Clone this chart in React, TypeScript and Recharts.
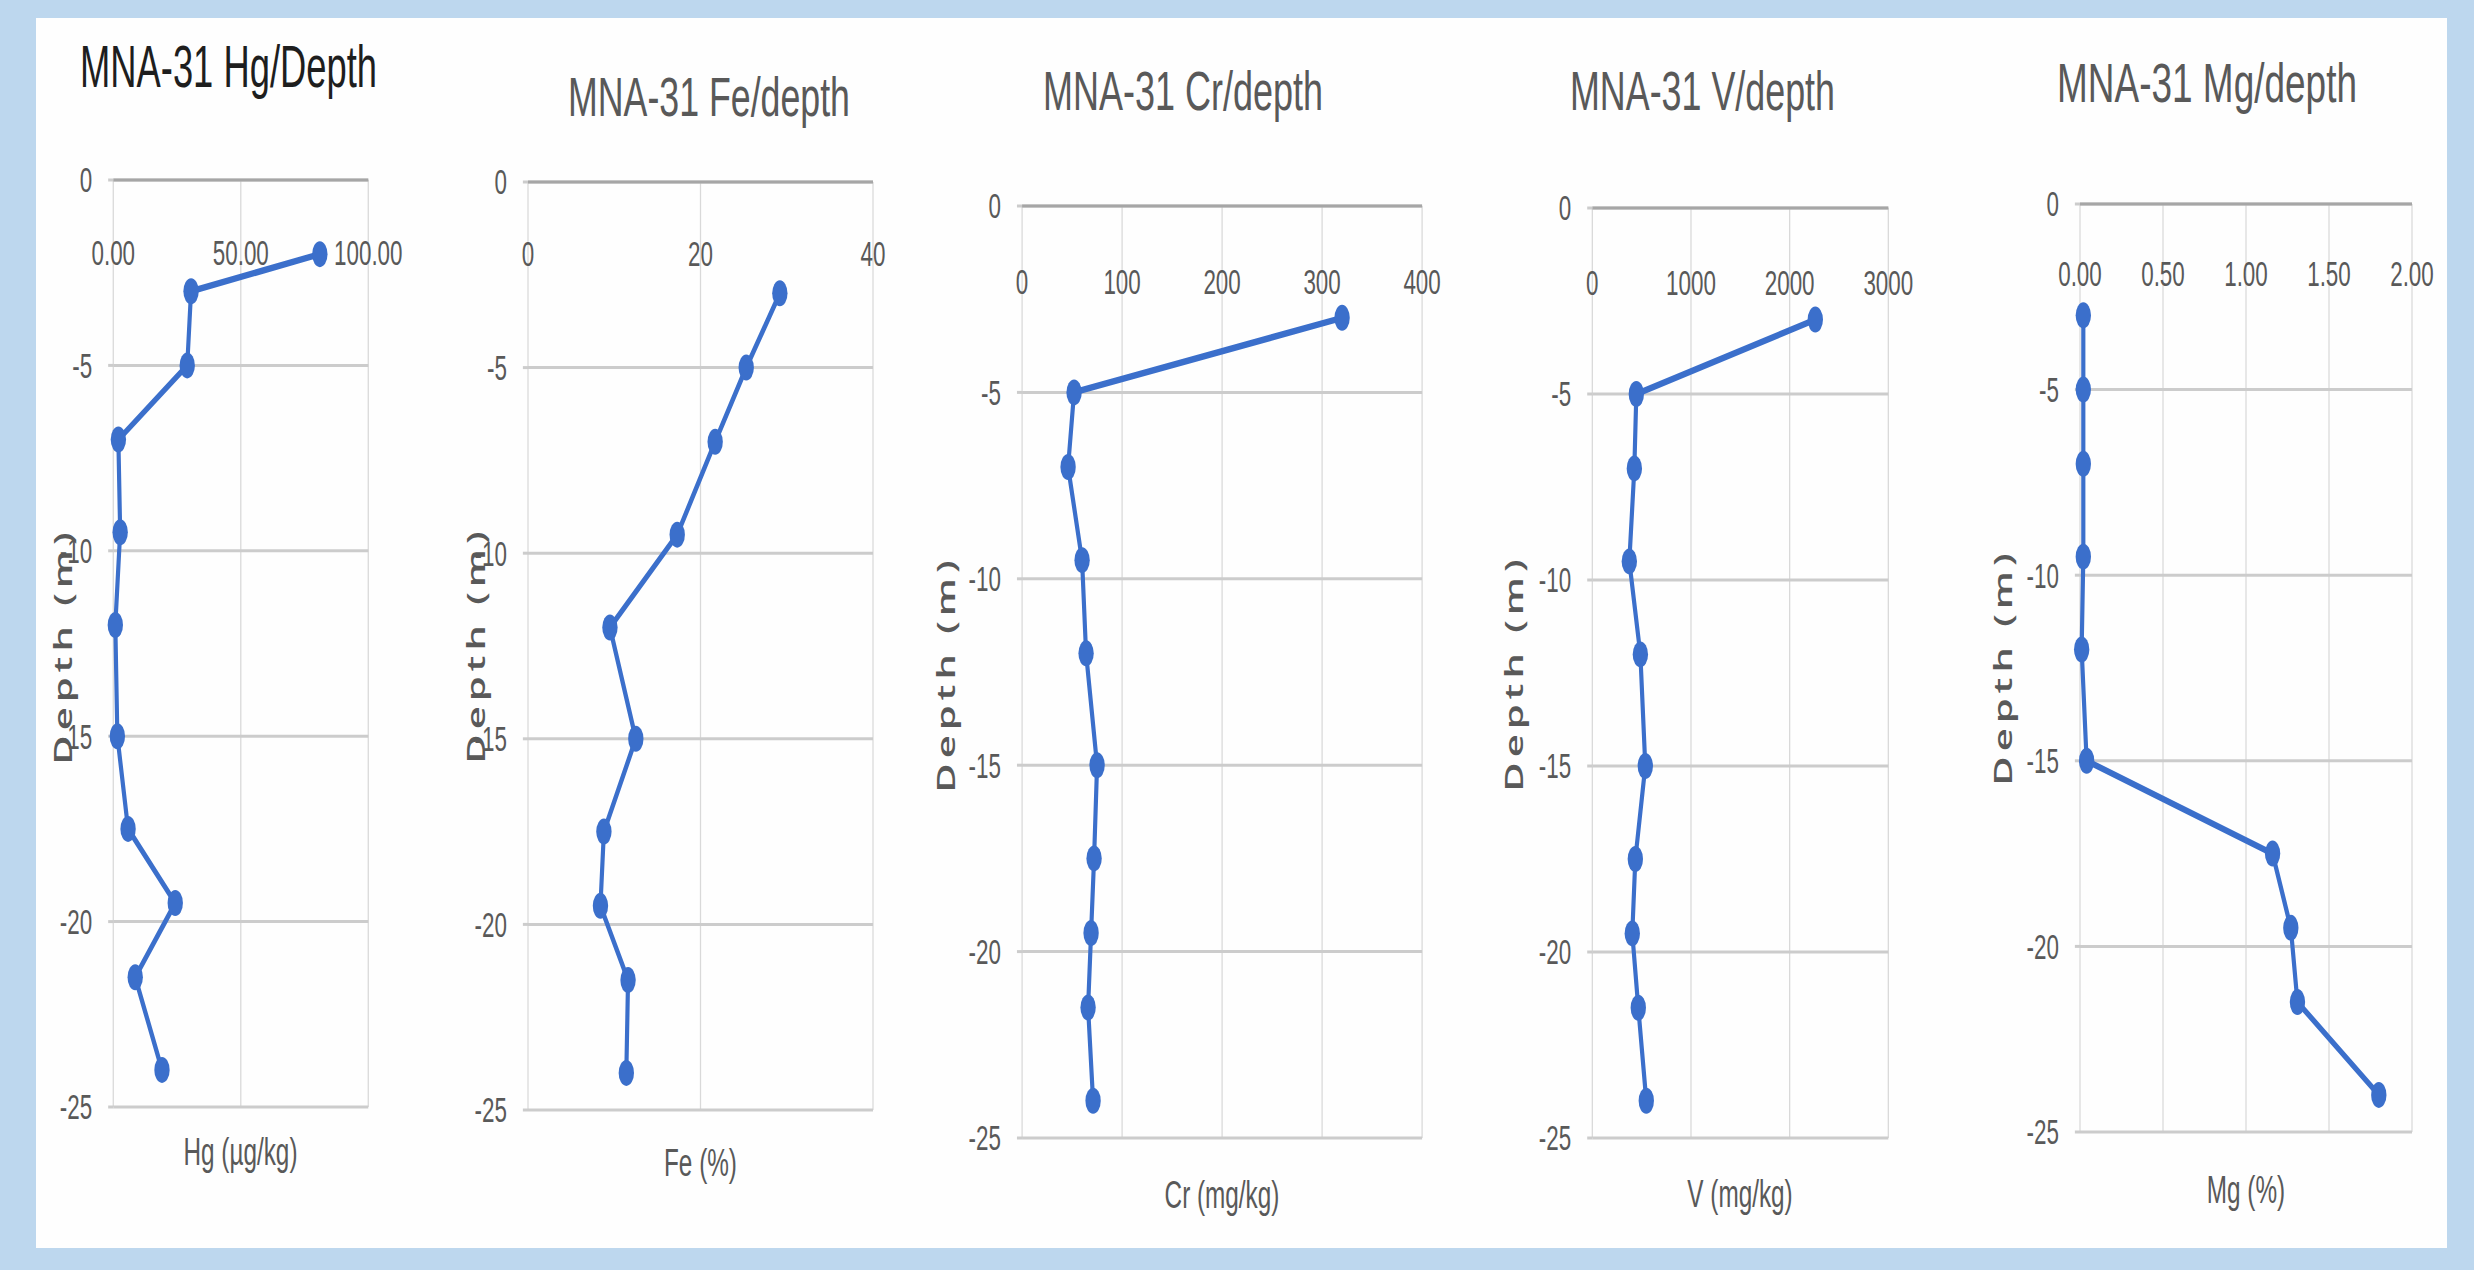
import React from "react";
import { ScatterChart, Scatter, XAxis, YAxis, CartesianGrid } from "recharts";

// the source picture is squeezed sideways, so everything is drawn wide and scaled back
const SQUEEZE = 0.64;
const PAGE_W = 2474;
const PAGE_H = 1270;

const FONT = "'Liberation Sans', Arial, sans-serif";
const TICK_GREY = "#595959";
const BLUE = "#3B6FCB";

// depth (m) of every sample
const HG_DEPTH = [-2, -3, -5, -7, -9.5, -12, -15, -17.5, -19.5, -21.5, -24];
const DEPTH = [-3, -5, -7, -9.5, -12, -15, -17.5, -19.5, -21.5, -24];

// concentrations
const HG = [81, 30.5, 29, 2, 2.7, 0.8, 1.6, 5.8, 24.3, 8.6, 19.1];
const FE = [29.2, 25.3, 21.7, 17.3, 9.5, 12.5, 8.8, 8.4, 11.6, 11.4];
const CR = [320, 52, 46, 60, 64, 75, 72, 69, 66, 71];
const V = [2260, 446, 426, 375, 487, 537, 436, 405, 466, 547];
const MG = [0.02, 0.02, 0.02, 0.02, 0.01, 0.04, 1.16, 1.27, 1.31, 1.8];

const DEPTH_TICKS = [0, -5, -10, -15, -20, -25];
const HG_TICKS = [0, 50, 100];
const FE_TICKS = [0, 20, 40];
const CR_TICKS = [0, 100, 200, 300, 400];
const V_TICKS = [0, 1000, 2000, 3000];
const MG_TICKS = [0, 0.5, 1, 1.5, 2];

type Panel = {
    title: string;
    titleColor: string;
    titleSize: number;
    titleX: number;
    titleY: number;
    titleW: number;
    xLabel: string;
    xLabelY: number;
    depthX: number;
    depthY: number;
    ticks: number[];
    tickY: number;
    digits: number;
    depths: number[];
    values: number[];
    left: number;
    right: number;
    top: number;
    bottom: number;
};

const PANELS: Panel[] = [
    {
        title: "MNA-31 Hg/Depth", titleColor: "#1E1E1E", titleSize: 60, titleX: 80, titleY: 87, titleW: 297,
        xLabel: "Hg (µg/kg)", xLabelY: 1165, depthX: 62, depthY: 646,
        ticks: HG_TICKS, tickY: 85, digits: 2, depths: HG_DEPTH, values: HG,
        left: 113, right: 368, top: 180, bottom: 1107,
    },
    {
        title: "MNA-31 Fe/depth", titleColor: TICK_GREY, titleSize: 56, titleX: 568, titleY: 116, titleW: 282,
        xLabel: "Fe (%)", xLabelY: 1176, depthX: 475, depthY: 645,
        ticks: FE_TICKS, tickY: 84, digits: 0, depths: DEPTH, values: FE,
        left: 528, right: 873, top: 182, bottom: 1110,
    },
    {
        title: "MNA-31 Cr/depth", titleColor: TICK_GREY, titleSize: 56, titleX: 1043, titleY: 110, titleW: 280,
        xLabel: "Cr (mg/kg)", xLabelY: 1208, depthX: 945, depthY: 674,
        ticks: CR_TICKS, tickY: 88, digits: 0, depths: DEPTH, values: CR,
        left: 1022, right: 1422, top: 206, bottom: 1138,
    },
    {
        title: "MNA-31 V/depth", titleColor: TICK_GREY, titleSize: 56, titleX: 1570, titleY: 110, titleW: 265,
        xLabel: "V (mg/kg)", xLabelY: 1207, depthX: 1513, depthY: 673,
        ticks: V_TICKS, tickY: 87, digits: 0, depths: DEPTH, values: V,
        left: 1592, right: 1888, top: 208, bottom: 1138,
    },
    {
        title: "MNA-31 Mg/depth", titleColor: TICK_GREY, titleSize: 56, titleX: 2057, titleY: 102, titleW: 300,
        xLabel: "Mg (%)", xLabelY: 1203, depthX: 2002, depthY: 667,
        ticks: MG_TICKS, tickY: 82, digits: 2, depths: DEPTH, values: MG,
        left: 2080, right: 2412, top: 204, bottom: 1132,
    },
];

const Y_AXIS_W = 160;
const X_AXIS_H = 2;
const M_TOP = 30;
const M_RIGHT = 60;
const M_BOTTOM = 30;

function Profile({ p }: { p: Panel }) {
    const plotLeft = p.left / SQUEEZE;
    const plotW = (p.right - p.left) / SQUEEZE;
    const plotH = p.bottom - p.top;
    const data = p.depths.map((d, i) => ({ v: p.values[i], d }));
    const max = p.ticks[p.ticks.length - 1];
    const plotTop = M_TOP + X_AXIS_H;

    // excel draws these just under the top axis line, inside the plot
    const topTick = (props: any) => (
        <text
            key={`t-${props.index}`}
            x={props.x}
            y={plotTop + p.tickY}
            textAnchor="middle"
            fill={TICK_GREY}
            fontSize={35}
            fontFamily={FONT}
        >
            {Number(props.payload.value).toFixed(p.digits)}
        </text>
    );

    return (
        <div style={{ position: "absolute", left: plotLeft - Y_AXIS_W, top: p.top - plotTop }}>
            <ScatterChart
                width={plotW + Y_AXIS_W + M_RIGHT}
                height={plotH + plotTop + M_BOTTOM}
                margin={{ top: M_TOP, right: M_RIGHT, bottom: M_BOTTOM, left: 0 }}
            >
                <CartesianGrid horizontal={false} stroke="#D9D9D9" strokeWidth={2} />
                <CartesianGrid vertical={false} stroke="#CCCCCC" strokeWidth={3} />
                <XAxis
                    type="number"
                    dataKey="v"
                    orientation="top"
                    domain={[0, max]}
                    ticks={p.ticks}
                    interval={0}
                    height={X_AXIS_H}
                    axisLine={{ stroke: "#A6A6A6", strokeWidth: 3 }}
                    tickLine={false}
                    tick={topTick}
                />
                <YAxis
                    type="number"
                    dataKey="d"
                    domain={[-25, 0]}
                    ticks={DEPTH_TICKS}
                    interval={0}
                    width={Y_AXIS_W}
                    axisLine={false}
                    tickLine={{ stroke: "#CCCCCC", strokeWidth: 3 }}
                    tickSize={8}
                    tickMargin={25}
                    tick={{ fill: TICK_GREY, fontSize: 35, fontFamily: FONT }}
                    tickFormatter={(t: number) => String(t)}
                />
                <Scatter
                    data={data}
                    fill={BLUE}
                    line={{ stroke: BLUE, strokeWidth: 6.5 }}
                    lineType="joint"
                    shape={(s: any) => <ellipse cx={s.cx} cy={s.cy} rx={12} ry={13} fill={BLUE} />}
                    isAnimationActive={false}
                />
            </ScatterChart>
        </div>
    );
}

export default function App() {
    const wide = PAGE_W / SQUEEZE;
    return (
        <div
            style={{
                position: "absolute",
                left: 0,
                top: 0,
                width: PAGE_W,
                height: PAGE_H,
                background: "#BDD7EE",
                overflow: "hidden",
            }}
        >
            <div style={{ position: "absolute", left: 36, top: 18, width: 2411, height: 1230, background: "#FEFEFE" }} />
            <div
                style={{
                    position: "absolute",
                    left: 0,
                    top: 0,
                    width: wide,
                    height: PAGE_H,
                    transform: `scaleX(${SQUEEZE})`,
                    transformOrigin: "0 0",
                }}
            >
                {PANELS.map((p) => (
                    <Profile key={p.title} p={p} />
                ))}
                <svg width={wide} height={PAGE_H} style={{ position: "absolute", left: 0, top: 0 }}>
                    {PANELS.map((p) => (
                        <g key={p.title}>
                            <text
                                x={p.titleX / SQUEEZE}
                                y={p.titleY}
                                fontSize={p.titleSize}
                                fontFamily={FONT}
                                fill={p.titleColor}
                                textLength={p.titleW / SQUEEZE}
                                lengthAdjust="spacingAndGlyphs"
                            >
                                {p.title}
                            </text>
                            <text
                                x={(p.left + p.right) / 2 / SQUEEZE}
                                y={p.xLabelY}
                                fontSize={38}
                                fontFamily={FONT}
                                fill={TICK_GREY}
                                textAnchor="middle"
                            >
                                {p.xLabel}
                            </text>
                            <text
                                transform={`translate(${p.depthX / SQUEEZE},${p.depthY}) rotate(-90)`}
                                fontSize={40}
                                fontWeight={600}
                                fontFamily="'Open Sans', 'DejaVu Sans', sans-serif"
                                letterSpacing={5}
                                fill={TICK_GREY}
                                textAnchor="middle"
                                dominantBaseline="central"
                            >
                                Depth (m)
                            </text>
                        </g>
                    ))}
                </svg>
            </div>
        </div>
    );
}
